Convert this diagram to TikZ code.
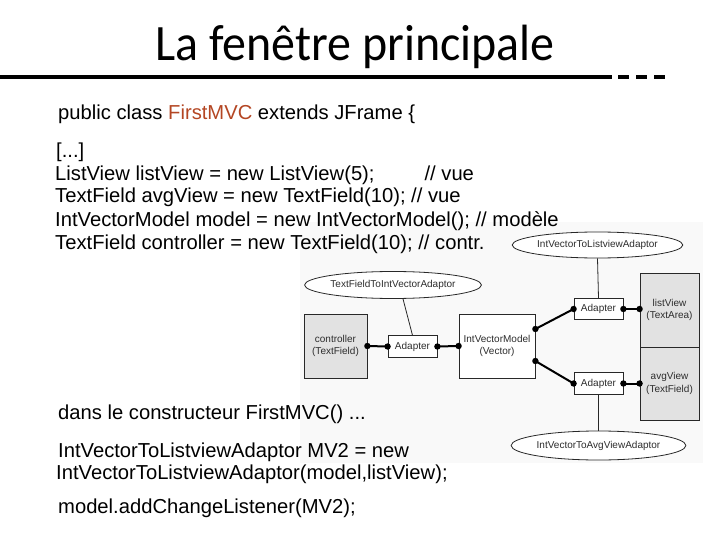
\documentclass[tikz,border=0pt]{standalone}
\usepackage{fontspec}
\setmainfont{Liberation Sans}
\newfontfamily\titlefont{Carlito}
\usetikzlibrary{shapes.geometric}
\definecolor{firstmvc}{RGB}{180,70,35}
\definecolor{dgline}{RGB}{40,40,40}
\definecolor{dgfill}{RGB}{226,226,226}
\definecolor{dgbg}{RGB}{249,249,249}
\definecolor{dgtext}{RGB}{45,45,45}
\tikzset{
  code/.style={anchor=base west, inner sep=0pt, font=\fontsize{20.2}{22}\selectfont},
  dgbox/.style={draw=dgline, line width=0.8pt, rectangle, inner sep=1pt, align=center,
    text=dgtext, font=\fontsize{10}{12.5}\selectfont},
  compbox/.style={dgbox, fill=dgfill},
  adapterbox/.style={dgbox, fill=white, minimum width=49pt, minimum height=21.5pt},
  dgell/.style={draw=dgline, line width=0.8pt, ellipse, fill=white, inner sep=0pt,
    text=dgtext, font=\fontsize{10}{12}\selectfont},
  conn/.style={draw=black, line width=2pt},
  thin/.style={draw=dgline, line width=0.8pt},
  dot/.style={fill=black}
}
\begin{document}
\begin{tikzpicture}[x=1pt,y=-1pt]
\useasboundingbox (0,0) rectangle (720,540);
\fill[white] (0,0) rectangle (720,540);
% diagram background
\fill[dgbg] (300,222) rectangle (703,463);

% title
\node[anchor=base, inner sep=0pt, font=\titlefont\fontsize{51}{56}\selectfont] (title) at (355,61) {\scalebox{0.94}[1]{La fenêtre principale}};
\coordinate (rulestart) at (0,77);
\coordinate (ruleend) at (612,77);
\coordinate (dashstart) at (618,77);
\coordinate (dashend) at (666,77);
\draw[line width=4pt] (rulestart) -- (ruleend);
\draw[line width=4pt, dash pattern=on 11pt off 7pt] (dashstart) -- (dashend);

% code text
\node[code] (t1) at (58,120) {public class \textcolor{firstmvc}{FirstMVC} extends JFrame \{};
\node[code] (t2) at (56,158) {[...]};
\node[code] (t3) at (55,181) {ListView listView = new ListView(5);\hspace{50pt}// vue};
\node[code] (t4) at (55,203) {TextField avgView = new TextField(10); // vue};
\node[code] (t5) at (55,226) {IntVectorModel model = new IntVectorModel(); // modèle};
\node[code] (t6) at (55,249) {TextField controller = new TextField(10); // contr.};
\node[code] (t7) at (58,419) {dans le constructeur FirstMVC() ...};
\node[code] (t8) at (58,457) {IntVectorToListviewAdaptor MV2 = new};
\node[code] (t9) at (56,479) {IntVectorToListviewAdaptor(model,listView);};
\node[code] (t10) at (58,513) {model.addChangeListener(MV2);};

% diagram
\node[compbox, minimum width=63pt, minimum height=64pt] (controller) at (335.5,346) {controller\\(TextField)};
\node[adapterbox] (adM) at (412.5,346.5) {Adapter};
\node[dgbox, fill=white, minimum width=76pt, minimum height=64pt] (ivm) at (497,346) {IntVectorModel\\(Vector)};
\node[adapterbox] (adL) at (598.5,309) {Adapter};
\node[adapterbox] (adA) at (598.5,383.5) {Adapter};
\node[compbox, minimum width=59pt, minimum height=74pt] (lv) at (669.5,310) {listView\\(TextArea)};
\node[compbox, minimum width=59pt, minimum height=73pt] (av) at (669.5,383.5) {avgView\\(TextField)};
\node[dgell, minimum width=149pt, minimum height=26pt] (ellL) at (597.5,245) {IntVectorToListviewAdaptor};
\node[dgell, minimum width=148pt, minimum height=27pt] (ellT) at (393,285) {TextFieldToIntVectorAdaptor};
\node[dgell, minimum width=149pt, minimum height=29pt] (ellA) at (598.5,445.5) {IntVectorToAvgViewAdaptor};

% thin links to ellipses
\draw[thin] (ellL.south) -- (adL.north);
\draw[thin] (adA.south) -- (ellA.north);
\draw[thin] ([xshift=10pt]ellT.south) -- (adM.north);

% connection points
\coordinate (ivmR1) at ([yshift=17pt]ivm.east);
\coordinate (ivmR2) at ([yshift=-15pt]ivm.east);
\coordinate (lvL) at (adL.east -| lv.west);
\coordinate (avL) at (adA.east -| av.west);

\draw[conn] (controller.east) -- (adM.west);
\draw[conn] (adM.east) -- (ivm.west);
\draw[conn] (ivmR1) -- (adL.west);
\draw[conn] (ivmR2) -- (adA.west);
\draw[conn] (adL.east) -- (lvL);
\draw[conn] (adA.east) -- (avL);

\foreach \p in {controller.east, adM.west, adM.east, ivm.west, ivmR1, ivmR2, adL.west, adL.east, lvL, adA.west, adA.east, avL}
  \fill[dot] (\p) circle (3.2);
\end{tikzpicture}
\end{document}
